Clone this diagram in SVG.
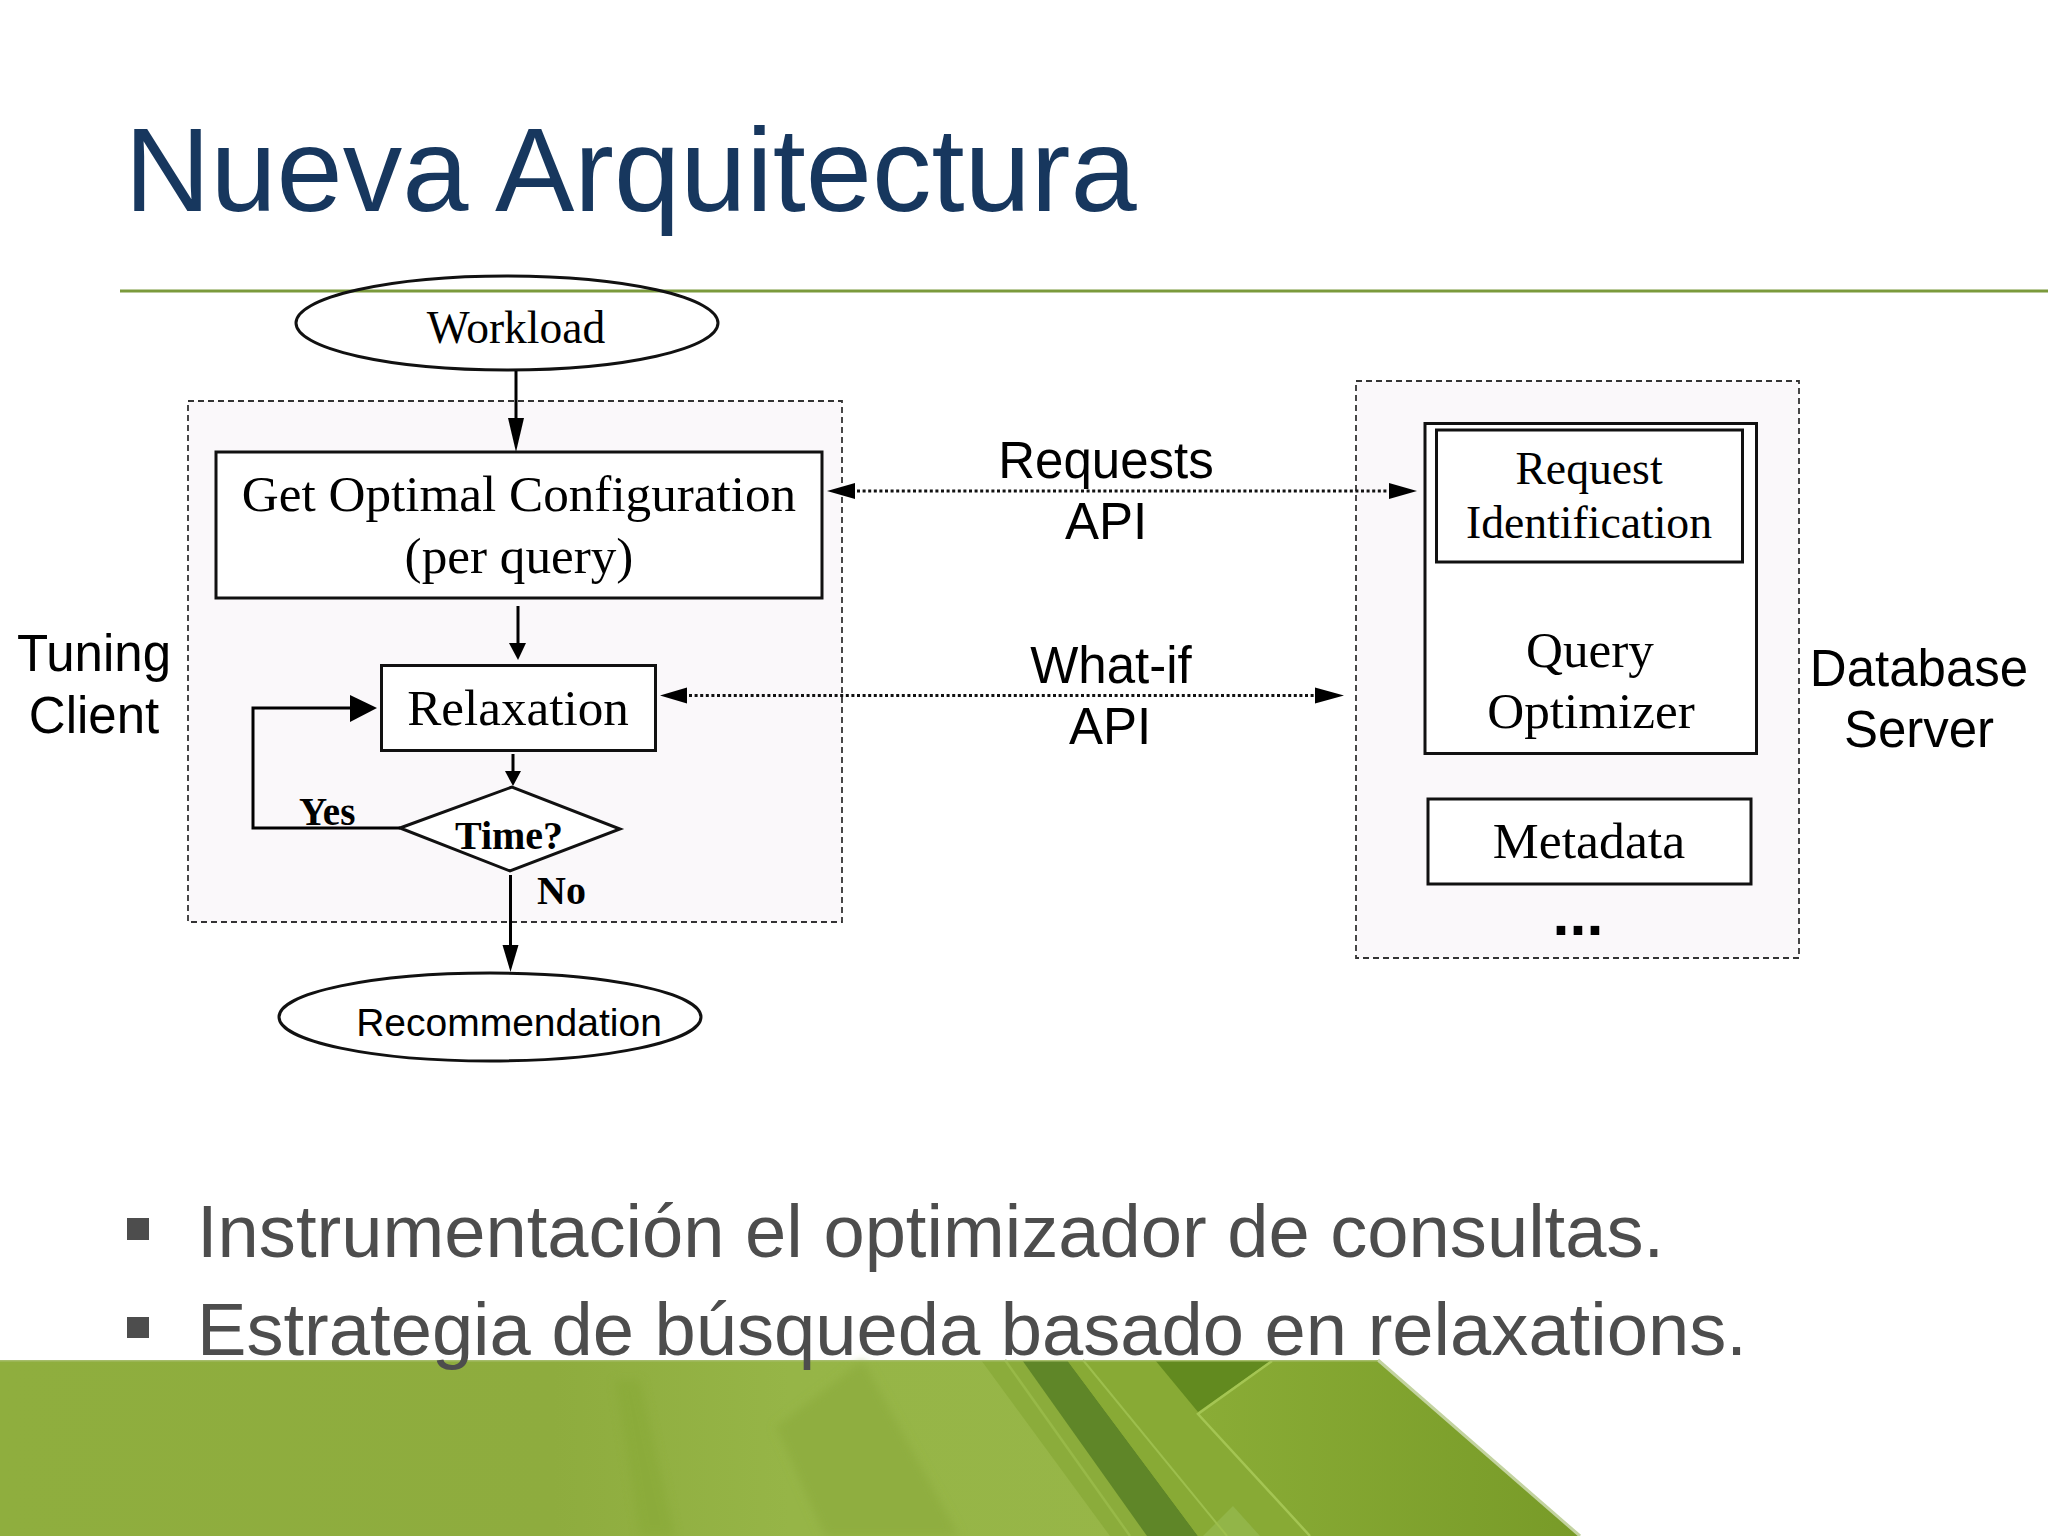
<svg xmlns="http://www.w3.org/2000/svg" width="2048" height="1536" viewBox="0 0 2048 1536">
<style>
.sans{font-family:"Liberation Sans",Arial,sans-serif;fill:#000}
.serif{font-family:"Liberation Serif","Times New Roman",serif;fill:#000}
.b{font-weight:bold}
.m{text-anchor:middle}
.box{fill:#fff;stroke:#111;stroke-width:3}
.zone{fill:#faf8fa;stroke:#333;stroke-width:1.800;stroke-dasharray:6 4}
.wire{fill:none;stroke:#000;stroke-width:3}
.dot{fill:none;stroke:#111;stroke-width:3;stroke-dasharray:3 2.6}
.body{font-family:"Liberation Sans",Arial,sans-serif;fill:#4d4d4d;font-size:74.150px}
</style>
<defs>
<linearGradient id="gBase" x1="0" y1="0" x2="1" y2="0"><stop offset="0" stop-color="#8fae3e"/><stop offset="0.35" stop-color="#8eac3e"/><stop offset="0.5" stop-color="#96b547"/><stop offset="1" stop-color="#98b748"/></linearGradient>
<linearGradient id="gRight" x1="0" y1="0" x2="1" y2="0"><stop offset="0" stop-color="#8aac36"/><stop offset="1" stop-color="#789b28"/></linearGradient>
<filter id="soft" x="-20%" y="-20%" width="140%" height="140%"><feGaussianBlur stdDeviation="5"/></filter>
</defs>
<rect width="2048" height="1536" fill="#fff"/>

<g id="footer-art">
<polygon points="0,1360 1378,1360 1580,1536 0,1536" fill="url(#gBase)"/>
<polygon points="615,1380 640,1380 675,1536 640,1536" fill="#86a836" filter="url(#soft)" opacity="0.5"/>
<polygon points="863,1361 776,1427 825,1536 959,1536" fill="#8fae40" filter="url(#soft)"/>
<polygon points="981,1360 1022,1360 1150,1536 1110,1536" fill="#8bac3b"/>
<line x1="1005" y1="1360" x2="1130" y2="1536" stroke="#98b948" stroke-width="2.500"/>
<polygon points="1035,1360 1083,1360 1227,1536 1175,1536" fill="#8bae38"/>
<polygon points="1022,1360 1067,1360 1198,1536 1147,1536" fill="#5f8628"/>
<polygon points="1067,1360 1378,1360 1580,1536 1198,1536" fill="#88aa35"/>
<polygon points="1272,1360 1378,1360 1580,1536 1310,1536 1198,1414" fill="url(#gRight)"/>
<polygon points="1155,1360 1272,1360 1198,1412" fill="#628a1f"/>
<polygon points="1233,1506 1260,1536 1203,1536" fill="#92b548"/>
<polyline points="1272,1361 1198,1414 1310,1536" fill="none" stroke="#a4c553" stroke-width="2.500"/>
<line x1="1083" y1="1360" x2="1227" y2="1536" stroke="#9dbf4d" stroke-width="2"/>
<line x1="1378" y1="1360" x2="1580" y2="1536" stroke="#c3d3a0" stroke-width="3"/>
<rect x="0" y="1360" width="1378" height="1.500" fill="#a5bc6a"/>
</g>

<g id="title"><text class="sans" x="124.500" y="211" font-size="119" style="fill:#17375e">Nueva Arquitectura</text></g>
<line id="rule" x1="120" y1="291" x2="2048" y2="291" stroke="#7b9a3c" stroke-width="3"/>

<g id="bullets">
<rect x="127" y="1218" width="22" height="22" fill="#4d4d4d"/>
<rect x="127" y="1317" width="22" height="21" fill="#4d4d4d"/>
<text class="body" x="197" y="1257">Instrumentación el optimizador de consultas.</text>
<text class="body" x="197" y="1355">Estrategia de búsqueda basado en relaxations.</text>
</g>

<g id="tuning-client-zone"><rect class="zone" x="188" y="401" width="654" height="521"/></g>
<g id="database-server-zone"><rect class="zone" x="1356" y="381" width="443" height="577"/></g>

<g id="workload"><ellipse class="box" cx="507" cy="323" rx="211" ry="47" style="fill:none"/><text class="serif m" x="516" y="343" font-size="45.500">Workload</text></g>
<g id="get-config"><rect class="box" x="216" y="452" width="606" height="146"/><text class="serif m" x="519" y="511" font-size="51.200">Get Optimal Configuration</text><text class="serif m" x="519" y="573" font-size="51.200">(per query)</text></g>
<g id="relaxation"><rect class="box" x="381.500" y="665.500" width="274" height="85"/><text class="serif m" x="518" y="725" font-size="51.200">Relaxation</text></g>
<g id="time"><polygon class="box" points="400,828 512,787 620,829 510,871"/><text class="serif b m" x="509" y="849" font-size="40">Time?</text></g>
<g id="recommendation"><ellipse class="box" cx="490" cy="1017" rx="211" ry="44"/><text class="sans m" x="509" y="1036" font-size="39">Recommendation</text></g>
<g id="query-optimizer"><rect class="box" x="1425" y="423.500" width="331.500" height="330"/><text class="serif m" x="1590" y="667" font-size="51.200">Query</text><text class="serif m" x="1591" y="728" font-size="51.200">Optimizer</text></g>
<g id="request-identification"><rect class="box" x="1436.500" y="430" width="306" height="132"/><text class="serif m" x="1589" y="484" font-size="45.700">Request</text><text class="serif m" x="1589" y="538" font-size="45.700">Identification</text></g>
<g id="metadata"><rect class="box" x="1428" y="799" width="323" height="85"/><text class="serif m" x="1589" y="858" font-size="51.700">Metadata</text></g>
<g id="more"><text class="sans b" x="1552.600" y="935" font-size="61">...</text></g>

<g id="labels">
<text class="sans m" x="94" y="671" font-size="51">Tuning</text>
<text class="sans m" x="94" y="733" font-size="51">Client</text>
<text class="sans m" x="1919" y="686" font-size="51">Database</text>
<text class="sans m" x="1919" y="747" font-size="51">Server</text>
<text class="sans m" x="1106" y="478" font-size="51">Requests</text>
<text class="sans m" x="1106" y="539" font-size="51">API</text>
<text class="sans m" x="1111" y="683" font-size="51">What-if</text>
<text class="sans m" x="1110" y="744" font-size="51">API</text>
<text class="serif b" x="299" y="825" font-size="39">Yes</text>
<text class="serif b" x="537" y="904" font-size="40">No</text>
</g>

<g id="connectors">
<line class="wire" x1="516" y1="371" x2="516" y2="420"/><polygon points="508,418 524,418 516,452"/>
<line class="wire" x1="518" y1="606" x2="518" y2="645"/><polygon points="509,643 526,643 518,660"/>
<line class="wire" x1="513" y1="754" x2="513" y2="773"/><polygon points="505,771 521,771 513,786"/>
<polyline class="wire" points="400,828 253,828 253,708 352,708"/><polygon points="350,695 350,722 377,708"/>
<line class="wire" x1="510.500" y1="875" x2="510.500" y2="947"/><polygon points="502.500,945 518.500,945 510.500,972"/>
<line class="dot" x1="857" y1="491" x2="1391" y2="491"/><polygon points="855,483 855,499 827,491"/><polygon points="1389,483 1389,499 1417,491"/>
<line class="dot" x1="689" y1="695.500" x2="1317" y2="695.500"/><polygon points="687,687.500 687,703.500 660,695.500"/><polygon points="1315,687.500 1315,703.500 1344,695.500"/>
</g>
</svg>
